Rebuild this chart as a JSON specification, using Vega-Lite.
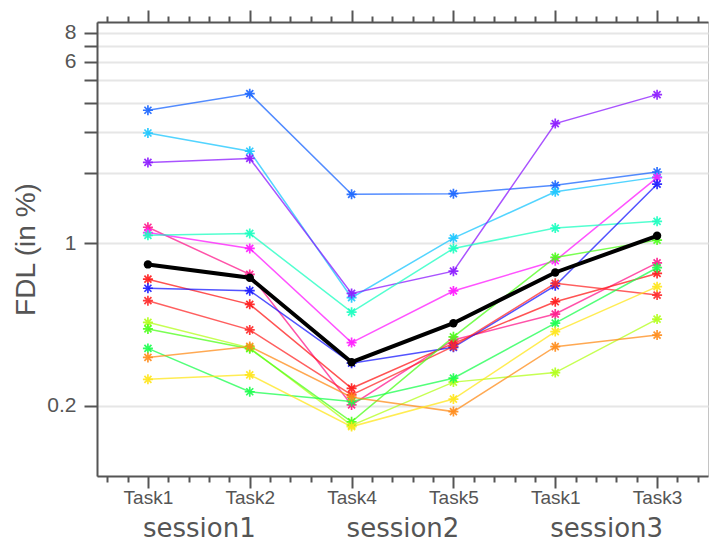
{
  "$schema": "https://vega.github.io/schema/vega-lite/v6.json",
  "width": 611,
  "height": 454,
  "autosize": {"type": "none"},
  "padding": {"left": 97, "top": 22, "right": 2, "bottom": 73},
  "background": "white",
  "config": {
    "view": {"stroke": "#c4c4c4", "strokeWidth": 1},
    "axis": {"labelFont": "Liberation Sans", "titleFont": "Liberation Sans", "labelColor": "#555", "titleColor": "#555", "domainColor": "#555", "tickColor": "#555", "domainWidth": 2, "tickWidth": 2}
  },
  "datasets": {
    "subj": [
      {"subject": "s1", "pos": 1, "fdl": 3.72}, {"subject": "s1", "pos": 2, "fdl": 4.38}, {"subject": "s1", "pos": 3, "fdl": 1.62}, {"subject": "s1", "pos": 4, "fdl": 1.63}, {"subject": "s1", "pos": 5, "fdl": 1.77}, {"subject": "s1", "pos": 6, "fdl": 2.02},
      {"subject": "s2", "pos": 1, "fdl": 2.97}, {"subject": "s2", "pos": 2, "fdl": 2.48}, {"subject": "s2", "pos": 3, "fdl": 0.583}, {"subject": "s2", "pos": 4, "fdl": 1.05}, {"subject": "s2", "pos": 5, "fdl": 1.66}, {"subject": "s2", "pos": 6, "fdl": 1.92},
      {"subject": "s3", "pos": 1, "fdl": 2.22}, {"subject": "s3", "pos": 2, "fdl": 2.31}, {"subject": "s3", "pos": 3, "fdl": 0.608}, {"subject": "s3", "pos": 4, "fdl": 0.758}, {"subject": "s3", "pos": 5, "fdl": 3.26}, {"subject": "s3", "pos": 6, "fdl": 4.34},
      {"subject": "s4", "pos": 1, "fdl": 1.17}, {"subject": "s4", "pos": 2, "fdl": 0.734}, {"subject": "s4", "pos": 3, "fdl": 0.202}, {"subject": "s4", "pos": 4, "fdl": 0.384}, {"subject": "s4", "pos": 5, "fdl": 0.496}, {"subject": "s4", "pos": 6, "fdl": 0.823},
      {"subject": "s5", "pos": 1, "fdl": 1.11}, {"subject": "s5", "pos": 2, "fdl": 0.949}, {"subject": "s5", "pos": 3, "fdl": 0.374}, {"subject": "s5", "pos": 4, "fdl": 0.623}, {"subject": "s5", "pos": 5, "fdl": 0.84}, {"subject": "s5", "pos": 6, "fdl": 1.91},
      {"subject": "s6", "pos": 1, "fdl": 1.08}, {"subject": "s6", "pos": 2, "fdl": 1.10}, {"subject": "s6", "pos": 3, "fdl": 0.505}, {"subject": "s6", "pos": 4, "fdl": 0.949}, {"subject": "s6", "pos": 5, "fdl": 1.16}, {"subject": "s6", "pos": 6, "fdl": 1.24},
      {"subject": "s7", "pos": 1, "fdl": 0.70}, {"subject": "s7", "pos": 2, "fdl": 0.546}, {"subject": "s7", "pos": 3, "fdl": 0.238}, {"subject": "s7", "pos": 4, "fdl": 0.371}, {"subject": "s7", "pos": 5, "fdl": 0.56}, {"subject": "s7", "pos": 6, "fdl": 0.741},
      {"subject": "s8", "pos": 1, "fdl": 0.64}, {"subject": "s8", "pos": 2, "fdl": 0.625}, {"subject": "s8", "pos": 3, "fdl": 0.305}, {"subject": "s8", "pos": 4, "fdl": 0.357}, {"subject": "s8", "pos": 5, "fdl": 0.656}, {"subject": "s8", "pos": 6, "fdl": 1.79},
      {"subject": "s9", "pos": 1, "fdl": 0.566}, {"subject": "s9", "pos": 2, "fdl": 0.424}, {"subject": "s9", "pos": 3, "fdl": 0.223}, {"subject": "s9", "pos": 4, "fdl": 0.36}, {"subject": "s9", "pos": 5, "fdl": 0.672}, {"subject": "s9", "pos": 6, "fdl": 0.598},
      {"subject": "s10", "pos": 1, "fdl": 0.457}, {"subject": "s10", "pos": 2, "fdl": 0.355}, {"subject": "s10", "pos": 3, "fdl": 0.165}, {"subject": "s10", "pos": 4, "fdl": 0.253}, {"subject": "s10", "pos": 5, "fdl": 0.278}, {"subject": "s10", "pos": 6, "fdl": 0.472},
      {"subject": "s11", "pos": 1, "fdl": 0.428}, {"subject": "s11", "pos": 2, "fdl": 0.352}, {"subject": "s11", "pos": 3, "fdl": 0.171}, {"subject": "s11", "pos": 4, "fdl": 0.396}, {"subject": "s11", "pos": 5, "fdl": 0.868}, {"subject": "s11", "pos": 6, "fdl": 1.03},
      {"subject": "s12", "pos": 1, "fdl": 0.353}, {"subject": "s12", "pos": 2, "fdl": 0.230}, {"subject": "s12", "pos": 3, "fdl": 0.209}, {"subject": "s12", "pos": 4, "fdl": 0.263}, {"subject": "s12", "pos": 5, "fdl": 0.453}, {"subject": "s12", "pos": 6, "fdl": 0.784},
      {"subject": "s13", "pos": 1, "fdl": 0.323}, {"subject": "s13", "pos": 2, "fdl": 0.36}, {"subject": "s13", "pos": 3, "fdl": 0.218}, {"subject": "s13", "pos": 4, "fdl": 0.189}, {"subject": "s13", "pos": 5, "fdl": 0.359}, {"subject": "s13", "pos": 6, "fdl": 0.403},
      {"subject": "s14", "pos": 1, "fdl": 0.260}, {"subject": "s14", "pos": 2, "fdl": 0.272}, {"subject": "s14", "pos": 3, "fdl": 0.163}, {"subject": "s14", "pos": 4, "fdl": 0.214}, {"subject": "s14", "pos": 5, "fdl": 0.417}, {"subject": "s14", "pos": 6, "fdl": 0.650}
    ],
    "mean": [
      {"pos": 1, "fdl": 0.81}, {"pos": 2, "fdl": 0.71}, {"pos": 3, "fdl": 0.308}, {"pos": 4, "fdl": 0.453}, {"pos": 5, "fdl": 0.748}, {"pos": 6, "fdl": 1.075}
    ]
  },
  "resolve": {"axis": {"x": "independent", "y": "independent"}},
  "layer": [
    {
      "data": {"name": "subj"},
      "mark": {"type": "line", "strokeWidth": 1.5, "opacity": 0.75},
      "encoding": {
        "x": {"field": "pos", "type": "quantitative",
          "scale": {"domain": [0.5, 6.5], "nice": false, "zero": false},
          "axis": {"orient": "bottom", "title": null, "grid": false,
            "values": [0.6,0.8,1,1.2,1.4,1.6,1.8,2,2.2,2.4,2.6,2.8,3,3.2,3.4,3.6,3.8,4,4.2,4.4,4.6,4.8,5,5.2,5.4,5.6,5.8,6,6.2,6.4],
            "tickSize": {"condition": {"test": "datum.value % 1 === 0", "value": 12}, "value": 6},
            "labelExpr": "datum.value === 1 ? 'Task1' : datum.value === 2 ? 'Task2' : datum.value === 3 ? 'Task4' : datum.value === 4 ? 'Task5' : datum.value === 5 ? 'Task1' : datum.value === 6 ? 'Task3' : ''",
            "labelFontSize": 19, "labelPadding": 0, "labelOverlap": false, "labelFlush": false, "labelBound": false}},
        "y": {"field": "fdl", "type": "quantitative",
          "scale": {"type": "log", "domain": [0.1, 8.9], "nice": false},
          "axis": {"orient": "left", "title": "FDL (in %)", "titleFontSize": 28, "titleFontWeight": "normal", "titlePadding": 6,
            "values": [0.2, 1, 2, 3, 4, 5, 6, 7, 8],
            "labelExpr": "datum.value === 0.2 ? '0.2' : datum.value === 1 ? '1' : datum.value === 6 ? '6' : datum.value === 8 ? '8' : ''",
            "labelFontSize": 21, "labelPadding": 8, "tickSize": 13, "labelOverlap": false, "labelFlush": false,
            "grid": true, "gridColor": "#e6e6e6", "gridWidth": 2}},
        "color": {"field": "subject", "type": "nominal", "legend": null,
          "scale": {"domain": ["s1","s2","s3","s4","s5","s6","s7","s8","s9","s10","s11","s12","s13","s14"],
            "range": ["#1a66ff","#1ac6ff","#8c1aff","#ff1a8c","#ff1aff","#1affc0","#ff1a1a","#1a1aff","#ff2a2a","#b3ff1a","#4dff1a","#1aff4d","#ff8c1a","#ffe61a"]}}
      }
    },
    {
      "data": {"name": "subj"},
      "mark": {"type": "point", "shape": "M-1,0L1,0M0,-1L0,1M-0.7,-0.7L0.7,0.7M-0.7,0.7L0.7,-0.7", "filled": false, "size": 100, "strokeWidth": 1.7, "opacity": 0.9},
      "encoding": {
        "x": {"field": "pos", "type": "quantitative",
          "axis": {"orient": "top", "title": null, "grid": false, "labels": false,
            "values": [0.6,0.8,1,1.2,1.4,1.6,1.8,2,2.2,2.4,2.6,2.8,3,3.2,3.4,3.6,3.8,4,4.2,4.4,4.6,4.8,5,5.2,5.4,5.6,5.8,6,6.2,6.4],
            "tickSize": {"condition": {"test": "datum.value % 1 === 0", "value": 12}, "value": 6}}},
        "y": {"field": "fdl", "type": "quantitative", "axis": null},
        "color": {"field": "subject", "type": "nominal", "legend": null}
      }
    },
    {
      "data": {"name": "mean"},
      "mark": {"type": "line", "strokeWidth": 4, "color": "black"},
      "encoding": {
        "x": {"field": "pos", "type": "quantitative",
          "axis": {"orient": "bottom", "title": null, "grid": false, "domain": false, "ticks": false, "tickSize": 0,
            "values": [1.5, 3.5, 5.5],
            "labelExpr": "datum.value === 1.5 ? 'session1' : datum.value === 3.5 ? 'session2' : 'session3'",
            "labelFont": "DejaVu Sans", "labelFontSize": 26, "labelPadding": 39, "labelOverlap": false, "labelFlush": false}},
        "y": {"field": "fdl", "type": "quantitative", "axis": null}
      }
    },
    {
      "data": {"name": "mean"},
      "mark": {"type": "point", "shape": "circle", "filled": true, "size": 70, "color": "black", "opacity": 1},
      "encoding": {
        "x": {"field": "pos", "type": "quantitative", "axis": null},
        "y": {"field": "fdl", "type": "quantitative", "axis": null}
      }
    }
  ]
}
